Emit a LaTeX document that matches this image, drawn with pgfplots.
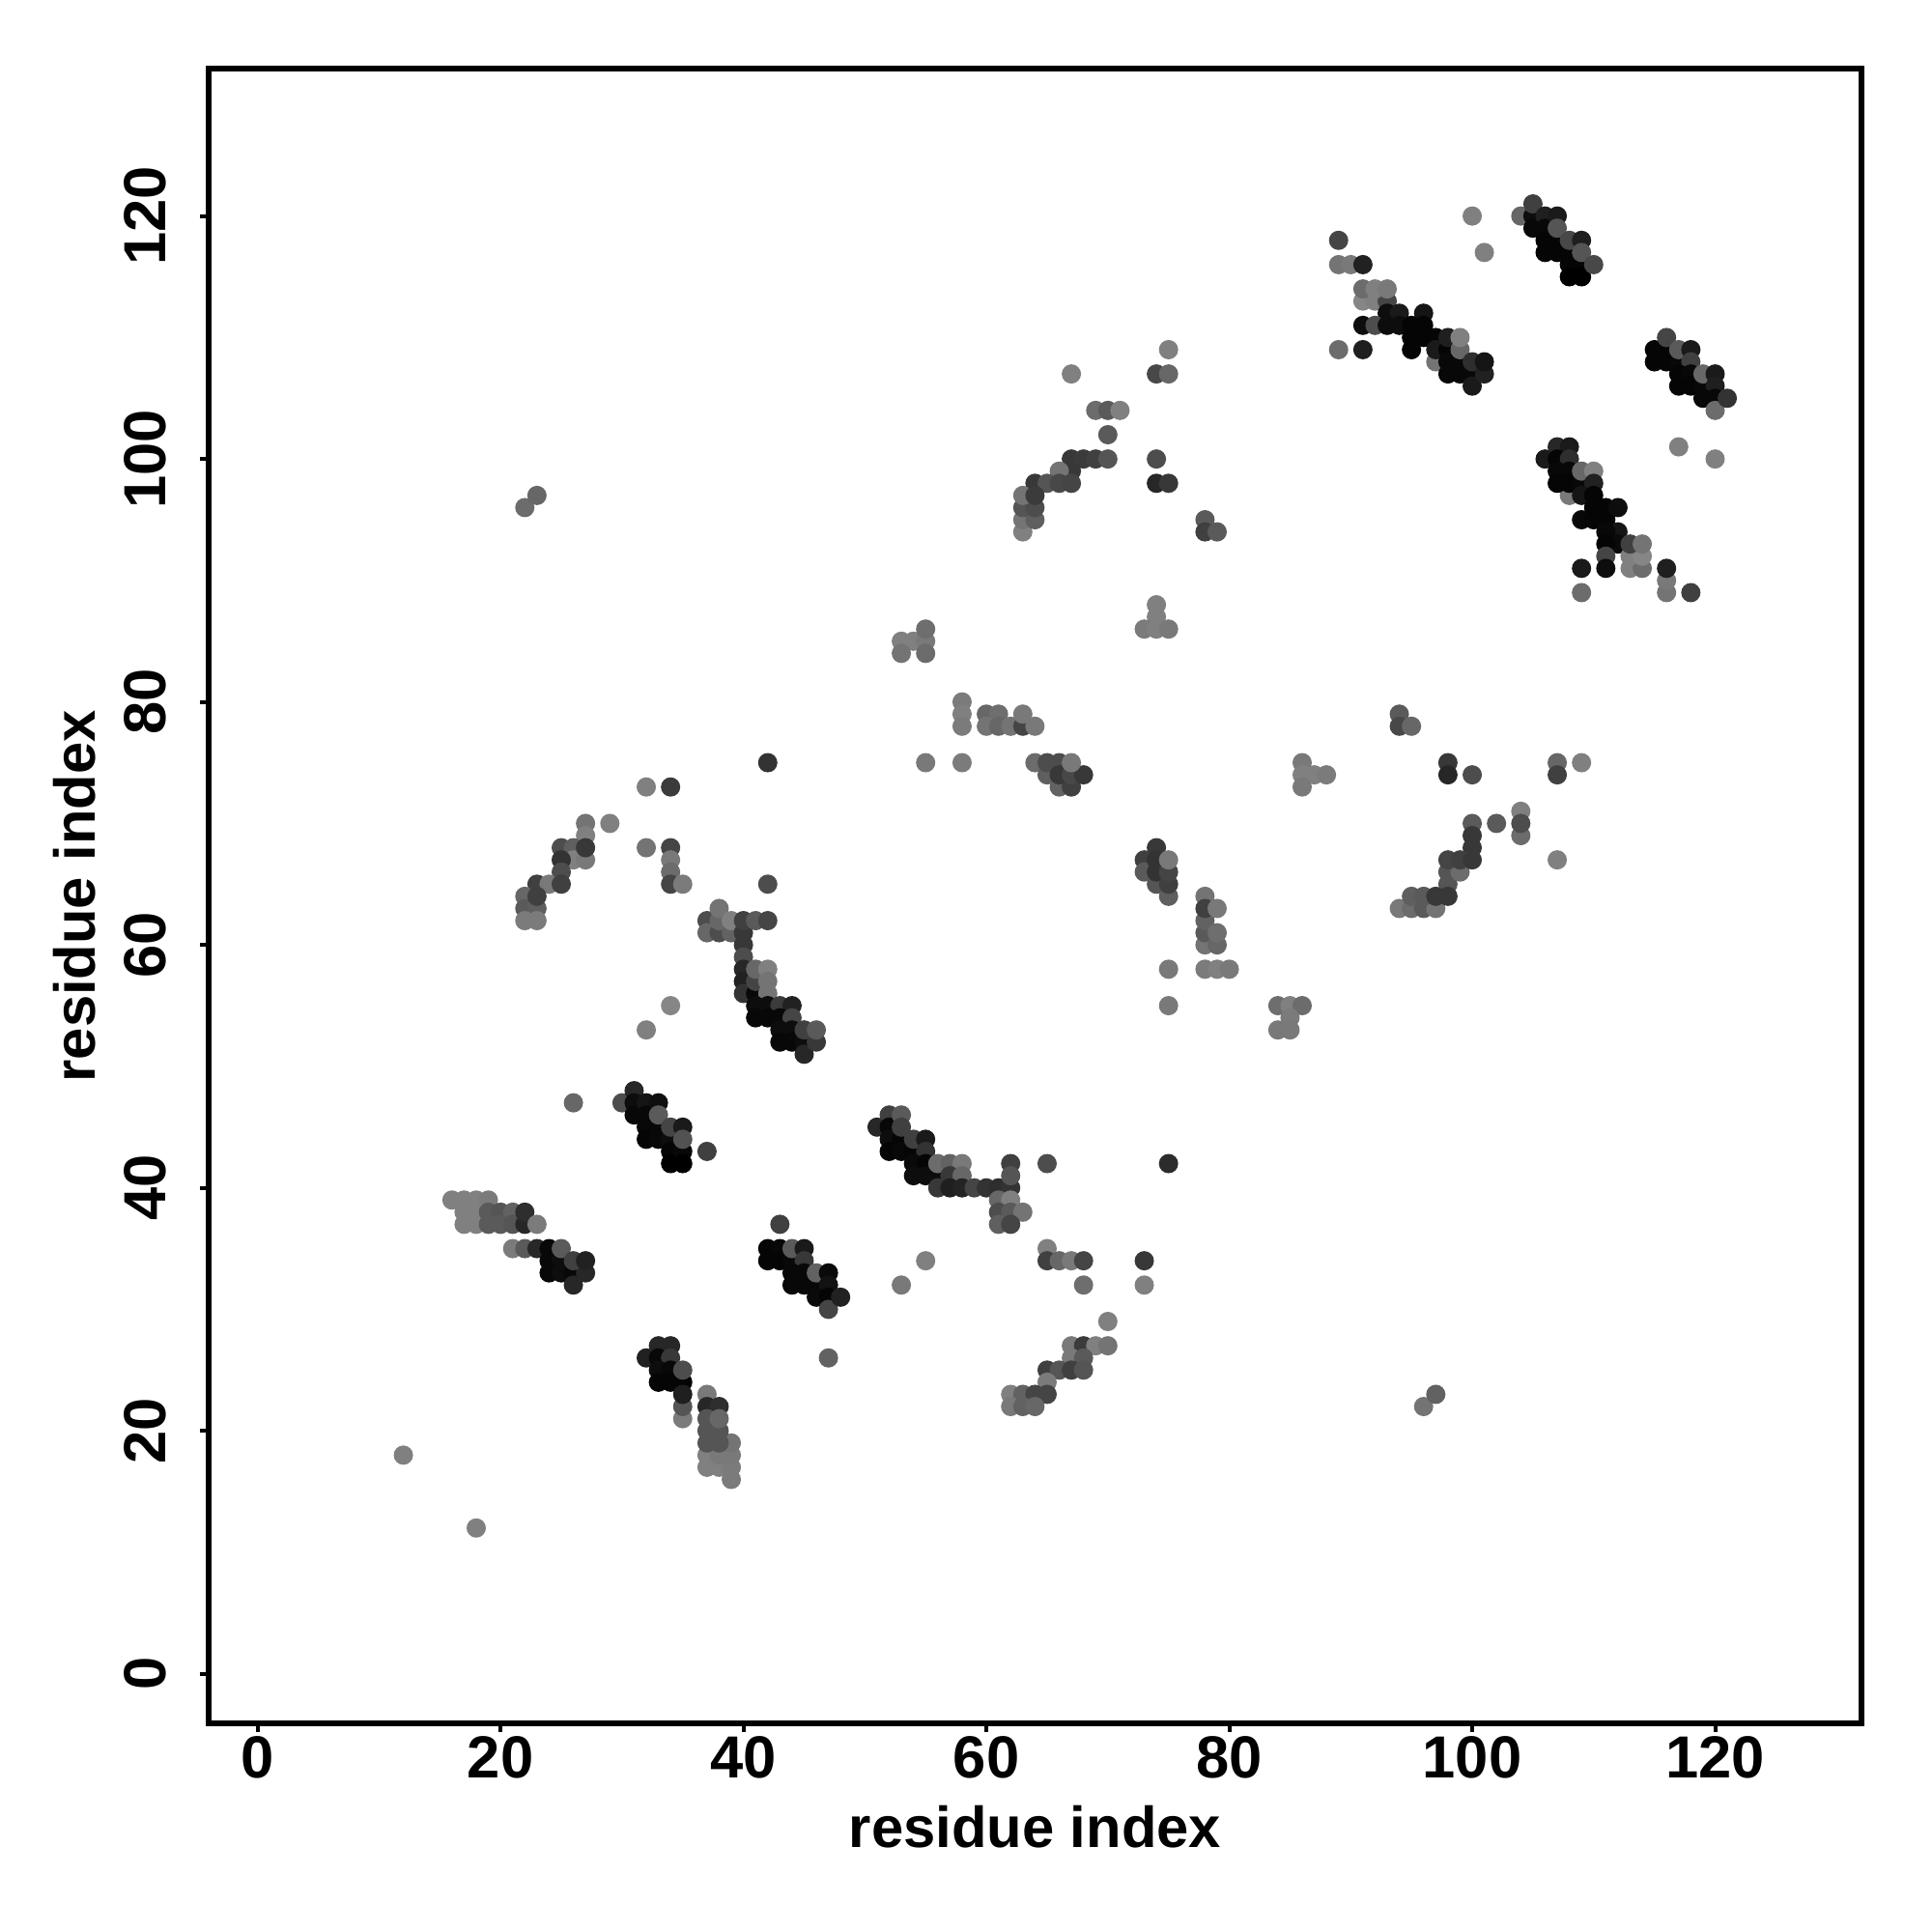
\documentclass[border=0pt]{standalone}
\usepackage{fontspec}
\setmainfont{Liberation Sans}
\usepackage{pgfplots}
\pgfplotsset{compat=1.18}
\begin{document}
\begin{tikzpicture}
\path[use as bounding box] (0,0) rectangle (20cm,20cm);
\begin{axis}[
 at={(2.16cm,2.16cm)},anchor=south west,
 width=17.11cm,height=17.125cm,scale only axis,
 xmin=-4.03,xmax=132.05,ymin=-4.08,ymax=132.1,
 xtick={0,20,40,60,80,100,120},ytick={0,20,40,60,80,100,120},
 xtick pos=bottom,ytick pos=left,tick align=outside,
 major tick length=0.9mm,
 axis line style={line width=0.6mm},
 tick style={line width=0.4mm,black},
 /pgf/number format/assume math mode=true,
 tick label style={font=\fontsize{17.5}{20}\selectfont\bfseries},
 label style={font=\fontsize{17}{20}\selectfont\bfseries},
 xticklabel style={anchor=center,yshift=-2.6mm},
 yticklabel style={rotate=90,anchor=center,yshift=5.7mm},
 xlabel={residue index},ylabel={residue index},
 xlabel style={at={(axis description cs:0.5,0)},anchor=center,yshift=-10.7mm},
 ylabel style={at={(axis description cs:0,0.5)},anchor=center,yshift=13.9mm},
 colormap={bw}{gray(0cm)=(0); gray(1cm)=(1)},
 point meta min=0,point meta max=1,
 clip=false,
]
\addplot[scatter,only marks,mark=*,mark size=1.0mm,point meta=explicit,
 mark options={draw opacity=0},
 scatter/use mapped color={draw opacity=0,fill=mapped color}]
 table[meta=g,row sep=\\] {
x y g\\
12 18 .5\\ 18 12 .5\\ 26 47 .4\\ 22 96 .42\\ 23 97 .4\\ 96 22 .45\\ 97 23 .38\\
30 47 .3\\ 31 48 .15\\ 31 47 .05\\ 31 46 .03\\ 32 47 .08\\ 32 46 .03\\ 32 45 .03\\ 32 44 .02\\ 33 47 .06\\ 33 45 .03\\ 33 44 .03\\ 33 46 .35\\ 34 44 .05\\ 34 43 .02\\ 34 42 0\\ 34 45 .27\\ 35 43 .03\\ 35 42 0\\ 35 45 .1\\ 35 44 .32\\ 37 43 .25\\
16 39 .5\\ 17 39 .5\\ 18 39 .5\\ 19 39 .48\\ 17 38 .5\\ 18 38 .5\\ 17 37 .5\\ 18 37 .5\\ 19 38 .35\\ 20 38 .33\\ 21 38 .38\\ 19 37 .35\\ 20 37 .35\\ 21 37 .33\\ 22 37 .15\\ 22 38 .18\\ 23 37 .48\\
21 35 .48\\ 22 35 .35\\ 23 35 .15\\ 24 35 .03\\ 24 34 .03\\ 25 34 .05\\ 24 33 .03\\ 25 33 .05\\ 26 33 .03\\ 25 35 .35\\ 26 32 .15\\ 27 33 .15\\ 26 34 .25\\ 27 34 .13\\
43 37 .25\\ 42 35 .02\\ 43 35 .03\\ 42 34 .02\\ 43 34 .02\\ 44 34 .03\\ 44 35 .35\\ 45 35 .1\\ 45 34 .22\\ 44 33 .03\\ 45 33 .03\\ 44 32 .03\\ 45 32 .03\\ 46 32 .03\\ 46 33 .38\\ 47 33 .04\\ 47 32 .07\\ 46 31 .04\\ 47 31 .02\\ 47 30 .27\\ 48 31 .13\\ 47 26 .38\\
32 26 .13\\ 33 27 .15\\ 34 27 .15\\ 33 26 .03\\ 34 26 .22\\ 33 25 .05\\ 34 25 .03\\ 33 24 .02\\ 34 24 .02\\ 35 24 .02\\ 35 25 .3\\ 35 21 .48\\ 35 22 .33\\ 35 23 .12\\
37 23 .47\\ 37 22 .15\\ 38 22 .18\\ 37 17 .5\\ 38 17 .5\\ 39 16 .48\\ 39 17 .48\\ 37 18 .5\\ 38 18 .47\\ 39 18 .47\\ 39 19 .45\\ 37 19 .33\\ 38 19 .33\\ 37 20 .33\\ 38 20 .33\\ 37 21 .33\\ 38 21 .4\\
51 45 .15\\ 52 46 .25\\ 52 45 .03\\ 52 44 .05\\ 53 44 .02\\ 52 43 .02\\ 53 43 .03\\ 54 43 .02\\ 53 46 .35\\ 53 45 .25\\ 54 44 .25\\ 55 44 .1\\ 55 43 .2\\
54 42 .04\\ 55 42 .02\\ 54 41 .05\\ 55 41 .05\\ 56 41 .05\\ 56 42 .42\\ 57 42 .38\\ 58 42 .47\\ 57 41 .22\\ 58 41 .4\\
56 40 .22\\ 57 40 .12\\ 58 40 .14\\ 59 40 .27\\ 60 40 .2\\ 61 40 .18\\ 62 40 .2\\ 62 42 .25\\ 62 41 .33\\ 65 42 .3\\ 75 42 .17\\
61 39 .4\\ 62 39 .5\\ 61 38 .3\\ 62 38 .35\\ 63 38 .45\\ 61 37 .37\\ 62 37 .27\\
65 35 .5\\ 65 34 .25\\ 66 34 .4\\ 67 34 .47\\ 68 34 .27\\ 73 34 .22\\ 55 34 .5\\ 53 32 .47\\ 68 32 .43\\ 73 32 .5\\ 70 29 .5\\
67 27 .47\\ 68 27 .23\\ 69 27 .5\\ 70 27 .45\\ 67 26 .47\\ 68 26 .35\\ 65 25 .25\\ 66 25 .33\\ 67 25 .25\\ 68 25 .33\\ 65 24 .48\\
62 23 .5\\ 63 23 .38\\ 64 23 .27\\ 65 23 .27\\ 62 22 .47\\ 63 22 .38\\ 64 22 .4\\
42 75 .2\\ 32 73 .5\\ 34 73 .23\\ 27 70 .45\\ 29 70 .5\\ 27 69 .5\\ 25 68 .3\\ 26 68 .37\\ 26 67 .5\\ 27 67 .47\\ 27 68 .22\\ 25 67 .2\\
25 66 .3\\ 23 65 .25\\ 24 65 .47\\ 25 65 .25\\ 22 64 .4\\ 22 63 .35\\ 23 63 .37\\ 23 64 .25\\ 22 62 .48\\ 23 62 .48\\
32 68 .45\\ 34 68 .27\\ 34 67 .47\\ 34 66 .42\\ 34 65 .27\\ 35 65 .48\\ 42 65 .3\\
37 62 .3\\ 37 61 .4\\ 38 61 .3\\ 38 62 .4\\ 38 63 .45\\ 39 61 .38\\ 39 62 .5\\ 40 61 .22\\ 40 62 .25\\ 41 62 .35\\ 42 62 .27\\
40 60 .22\\ 40 59 .3\\ 40 58 .15\\ 40 57 .13\\ 40 56 .2\\ 41 56 .03\\ 41 57 .27\\ 41 58 .4\\ 42 58 .5\\ 42 57 .45\\ 42 56 .45\\ 34 55 .52\\ 41 55 .05\\ 42 55 .05\\ 43 55 .23\\ 44 55 .13\\
41 54 .03\\ 42 54 .03\\ 43 54 .03\\ 44 54 .27\\ 32 53 .5\\ 43 53 .05\\ 44 53 .05\\ 43 52 .03\\ 44 52 .03\\ 45 52 .05\\ 45 51 .15\\ 46 52 .22\\ 45 53 .25\\ 46 53 .35\\
74 88 .5\\ 74 87 .5\\ 73 86 .48\\ 74 86 .5\\ 75 86 .47\\ 53 85 .5\\ 54 85 .5\\ 55 85 .47\\ 55 86 .43\\ 53 84 .45\\ 55 84 .42\\
58 80 .48\\ 58 79 .5\\ 58 78 .48\\ 60 79 .4\\ 61 79 .43\\ 60 78 .45\\ 61 78 .4\\ 62 78 .45\\ 63 78 .27\\ 63 79 .47\\ 64 78 .47\\
55 75 .47\\ 58 75 .48\\ 64 75 .42\\ 65 74 .37\\ 65 75 .3\\ 66 75 .3\\ 66 73 .38\\ 67 73 .25\\ 66 74 .22\\ 67 74 .28\\ 68 74 .22\\ 67 75 .47\\
86 75 .47\\ 86 74 .5\\ 87 74 .5\\ 88 74 .48\\ 86 73 .47\\
74 68 .22\\ 73 67 .25\\ 73 66 .35\\ 74 65 .33\\ 74 67 .2\\ 74 66 .2\\ 75 64 .37\\ 75 65 .25\\ 75 66 .27\\ 75 67 .47\\
78 64 .45\\ 78 60 .45\\ 78 61 .35\\ 78 62 .38\\ 78 63 .25\\ 79 63 .47\\ 79 60 .4\\ 79 61 .43\\ 75 58 .47\\ 78 58 .48\\ 79 58 .5\\ 80 58 .47\\ 75 55 .47\\
84 55 .43\\ 85 55 .5\\ 86 55 .42\\ 85 54 .48\\ 84 53 .47\\ 85 53 .47\\
94 79 .35\\ 94 78 .28\\ 95 78 .4\\ 98 75 .22\\ 98 74 .15\\ 100 74 .3\\ 107 75 .4\\ 107 74 .25\\ 109 75 .5\\
100 70 .35\\ 102 70 .35\\ 104 71 .5\\ 104 69 .42\\ 104 70 .3\\ 100 69 .22\\ 100 68 .22\\ 98 65 .33\\ 98 66 .33\\ 99 66 .42\\ 98 67 .27\\ 99 67 .25\\ 100 67 .22\\ 107 67 .5\\
94 63 .47\\ 95 63 .42\\ 96 63 .35\\ 97 63 .45\\ 95 64 .37\\ 96 64 .35\\ 97 64 .22\\ 98 64 .22\\
75 109 .5\\ 67 107 .5\\ 74 107 .28\\ 75 107 .4\\ 69 104 .42\\ 70 104 .35\\ 71 104 .5\\ 70 102 .35\\ 67 100 .22\\ 68 100 .23\\ 69 100 .25\\ 70 100 .33\\ 74 100 .3\\
67 99 .22\\ 66 99 .45\\ 64 98 .22\\ 65 98 .33\\ 66 98 .28\\ 67 98 .27\\ 74 98 .15\\ 75 98 .22\\
63 94 .5\\ 63 95 .45\\ 64 95 .37\\ 63 96 .33\\ 64 96 .3\\ 63 97 .45\\ 64 97 .23\\ 78 95 .35\\ 78 94 .25\\ 79 94 .35\\
100 120 .5\\ 101 117 .5\\ 89 118 .27\\ 89 116 .45\\ 90 116 .47\\ 91 116 .13\\
91 113 .52\\ 92 113 .5\\ 93 113 .27\\ 91 114 .42\\ 92 114 .5\\ 93 114 .47\\
97 108 .45\\ 93 112 .05\\ 94 112 .1\\ 96 112 .08\\ 91 111 .05\\ 92 111 .3\\ 93 111 .05\\ 94 111 .05\\ 95 111 .02\\ 96 111 .02\\
95 110 .02\\ 96 110 .02\\ 97 110 .02\\ 89 109 .42\\ 91 109 .12\\ 95 109 .02\\ 97 109 .1\\ 98 109 .02\\ 98 108 .03\\ 99 108 .03\\ 98 107 .03\\ 99 107 .03\\ 100 107 .03\\ 100 106 .1\\ 98 110 .12\\ 99 109 .4\\ 99 110 .5\\ 100 108 .18\\ 101 107 .13\\ 101 108 .08\\
104 120 .4\\ 105 120 .05\\ 105 119 .03\\ 105 121 .25\\ 106 120 .12\\ 106 119 .03\\ 106 118 .02\\ 106 117 .02\\ 107 118 .02\\ 107 117 .02\\ 107 120 .1\\ 107 119 .33\\ 108 117 .02\\ 108 116 .02\\ 109 116 .02\\ 108 115 0\\ 109 115 0\\ 108 118 .28\\ 109 118 .12\\ 109 117 .33\\ 110 116 .28\\
115 109 .02\\ 116 109 .02\\ 115 108 .02\\ 116 108 .02\\ 117 108 .03\\ 116 110 .27\\ 117 109 .35\\ 118 109 .1\\ 118 108 .25\\ 117 107 .02\\ 118 107 .03\\ 117 106 .02\\ 118 106 .02\\ 119 106 .03\\ 119 107 .4\\ 120 107 .1\\ 120 106 .12\\ 119 105 .03\\ 120 105 .03\\ 120 104 .42\\ 121 105 .2\\
117 101 .5\\ 120 100 .5\\ 108 97 .47\\ 106 100 .1\\ 107 101 .15\\ 108 101 .1\\ 107 100 .02\\ 108 100 .18\\ 107 99 .03\\ 108 99 .03\\ 107 98 .02\\ 108 98 .02\\ 109 98 .03\\ 109 99 .4\\ 110 99 .5\\ 110 98 .13\\ 109 97 .08\\ 110 97 .02\\ 110 96 .02\\ 111 96 .02\\ 109 95 .03\\ 110 95 .02\\ 111 95 .02\\ 112 96 .05\\
112 94 .08\\ 111 94 .03\\ 112 93 .04\\ 111 93 .02\\ 111 92 .27\\ 111 91 .05\\ 109 91 .1\\ 109 89 .42\\ 113 91 .5\\ 114 91 .42\\ 113 92 .5\\ 114 92 .52\\ 113 93 .25\\ 114 93 .45\\ 116 89 .45\\ 116 90 .47\\ 116 91 .12\\ 118 89 .25\\
};
\end{axis}
\end{tikzpicture}
\end{document}
